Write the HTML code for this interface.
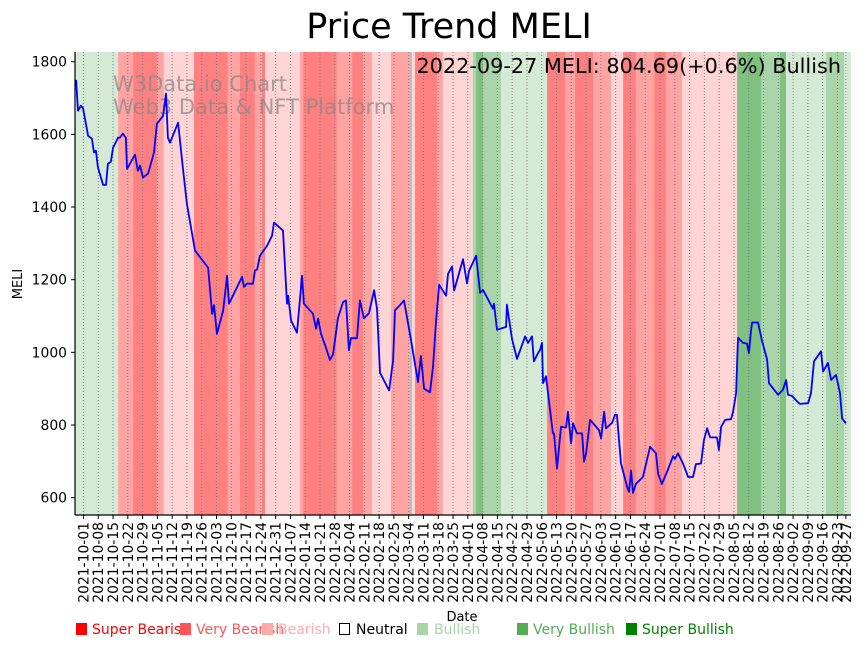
<!DOCTYPE html>
<html><head><meta charset="utf-8">
<style>
html,body{margin:0;padding:0;background:#fff;}
body{width:868px;height:646px;overflow:hidden;font-family:"DejaVu Sans","Liberation Sans",sans-serif;}
svg{display:block;}
</style></head>
<body>
<svg id="chart" width="868" height="646" viewBox="0 0 868 646" xmlns="http://www.w3.org/2000/svg" font-family="DejaVu Sans, Liberation Sans, sans-serif">
  <g id="bands"></g>
  <g id="grid"></g>
  <text x="113" y="91" font-size="21" fill="#888" fill-opacity="0.75">W3Data.io Chart</text>
  <text x="113" y="114" font-size="21" fill="#888" fill-opacity="0.75">Web3 Data &amp; NFT Platform</text>
  <path id="priceLine" fill="none" stroke="#0000ff" stroke-width="1.8" stroke-linejoin="round"/>
  <g id="axes"></g>
  <text x="449" y="38" font-size="35" text-anchor="middle" fill="#000">Price Trend MELI</text>
  <text x="841" y="73" font-size="20.8" text-anchor="end" fill="#000">2022-09-27 MELI: 804.69(+0.6%) Bullish</text>
  <text transform="translate(22,284) rotate(-90)" font-size="13" text-anchor="middle">MELI</text>
  <text x="462" y="621" font-size="13" text-anchor="middle">Date</text>
  <g id="legend" font-size="14">
    <g><rect x="76" y="623" width="11" height="12" fill="#ff0000"/><text x="92" y="634" fill="#ff0000">Super Bearish</text></g>
    <g><rect x="180" y="623" width="11" height="12" fill="#ff5555"/><text x="196" y="634" fill="#ff5555">Very Bearish</text></g>
    <g><rect x="262" y="623" width="11" height="12" fill="#ffaaaa"/><text x="278" y="634" fill="#ffaaaa">Bearish</text></g>
    <g><rect x="339.5" y="623.5" width="10" height="11" fill="none" stroke="#000"/><text x="356" y="634" fill="#000">Neutral</text></g>
    <g><rect x="417" y="623" width="11" height="12" fill="#aad4aa"/><text x="434" y="634" fill="#aad4aa">Bullish</text></g>
    <g><rect x="517" y="623" width="11" height="12" fill="#55aa55"/><text x="533" y="634" fill="#55aa55">Very Bullish</text></g>
    <g><rect x="626" y="623" width="11" height="12" fill="#008000"/><text x="642" y="634" fill="#008000">Super Bullish</text></g>
  </g>
</svg>
<script>
// Data: day offsets from 2021-09-27 and closing prices
const dayOffsets = [0,0.5,1.4,2.8,3.8,6.2,8,9,9.9,10.9,13.3,14.7,15.6,17,18,20.4,21.3,22.7,24.1,24.6,28.4,29.8,30.8,32.2,34.6,37.4,38.8,41.7,43.1,44,45,48.8,50.7,53,56.8,63,64.9,65.8,67.2,70.1,72,72.9,79.1,80,81.4,84.3,85.2,86.2,87.6,90.9,93.3,94.2,98.5,100.4,100.9,102.3,105.1,107.5,108.4,112.7,114.1,115.1,116.5,118.4,120.7,122.2,124.5,126.9,128.3,129.7,130.7,133.5,134.9,136.8,139.2,141.6,143,144.4,148.7,150.6,151.5,153.9,155.8,159.1,162.4,163.8,165.3,168.1,169.5,170.9,172.4,175.7,176.6,178.5,179.5,183.7,185.6,186.6,189.9,191.8,193.2,197.9,198.4,199.8,204.1,204.5,206.9,209.3,211.7,213.1,214.5,216.4,217.3,219.2,220.2,221.1,221.6,223,226.3,226.8,228.2,230.1,232.5,233.4,234.9,235.8,237.7,240.1,241,242,243.9,248.1,249.1,250.5,251.4,254.3,255.7,256.6,258.5,261.4,262.3,263.3,264.2,265.6,268.9,270.8,272.3,275.1,276.1,277.9,280.3,283.2,284.1,285.5,287.9,290.3,292.6,294,296.4,297.8,299.3,300.7,304,304.9,305.9,307.8,310.6,311.6,313,313.9,316.3,318.2,319.1,320.1,320.6,323.4,325.3,327.7,328.6,332.9,335.2,336.7,337.6,339.5,341.9,343.3,347.1,348.5,349.9,353.2,354.2,356.5,358,360.3,362.2,363.2,365];
const prices = [1748,1748,1665,1679,1672,1596,1588,1550,1555,1508,1461,1461,1519,1525,1563,1591,1591,1602,1590,1505,1544,1500,1514,1481,1492,1550,1629,1651,1712,1591,1577,1632,1527,1409,1280,1233,1106,1130,1051,1114,1211,1134,1208,1180,1189,1189,1225,1228,1266,1293,1321,1357,1335,1134,1156,1087,1054,1211,1134,1106,1065,1093,1051,1020,979,995,1094,1138,1143,1006,1039,1039,1143,1094,1108,1171,1120,944,895,978,1116,1130,1143,1034,918,990,900,890,960,1080,1186,1156,1216,1236,1170,1256,1190,1225,1266,1164,1172,1120,1134,1062,1070,1131,1037,982,1021,1044,1026,1044,975,998,1007,1026,915,934,777,777,680,795,793,837,749,805,777,777,699,722,814,786,763,837,791,806,828,828,694,630,616,674,613,638,657,703,740,722,666,638,671,714,707,722,694,657,657,692,694,759,791,766,766,731,795,814,816,837,888,1040,1026,1024,998,1062,1082,1082,1032,980,915,883,897,924,883,880,865,858,860,888,975,1003,947,971,924,938,888,818,804.69];
// Sentiment bands: start/end day offsets and sentiment level
const bandStarts = [0,20.4,27.5,38.8,42.1,56.3,72.4,78.1,85.2,88.5,90,106.5,108,124,131.2,136.4,140.6,149.6,158.6,159.6,161,171.4,174.2,188.4,189.9,193.2,201.7,223.5,232,236.7,245.3,253.8,259.5,265.6,274.2,279.8,287.4,313.5,324.8,333.8,336.7,355.6,364.1];
const bandEnds = [20.4,27.5,38.8,42.1,56.3,72.4,78.1,85.2,88.5,90,106.5,108,124,131.2,136.4,140.6,149.6,158.6,159.6,161,171.4,174.2,188.4,189.9,193.2,201.7,223.5,232,236.7,245.3,253.8,259.5,265.6,274.2,279.8,287.4,313.5,324.8,333.8,336.7,355.6,364.1,367.5];
const bandLevels = [1,-2,-3,-2,-1,-3,-2,-3,-2,-3,-1,-2,-3,-2,-3,-2,-1,-2,0,-1,-3,-2,-1,2,3,2,1,-3,-2,-3,-2,-1,-3,-2,-3,-2,-1,3,2,3,1,2,1];
const yTicks = [600,800,1000,1200,1400,1600,1800];
const tickDates = ["2021-10-01","2021-10-08","2021-10-15","2021-10-22","2021-10-29","2021-11-05","2021-11-12","2021-11-19","2021-11-26","2021-12-03","2021-12-10","2021-12-17","2021-12-24","2021-12-31","2022-01-07","2022-01-14","2022-01-21","2022-01-28","2022-02-04","2022-02-11","2022-02-18","2022-02-25","2022-03-04","2022-03-11","2022-03-18","2022-03-25","2022-04-01","2022-04-08","2022-04-15","2022-04-22","2022-04-29","2022-05-06","2022-05-13","2022-05-20","2022-05-27","2022-06-03","2022-06-10","2022-06-17","2022-06-24","2022-07-01","2022-07-08","2022-07-15","2022-07-22","2022-07-29","2022-08-05","2022-08-12","2022-08-19","2022-08-26","2022-09-02","2022-09-09","2022-09-16","2022-09-23","2022-09-27"];

const NS = "http://www.w3.org/2000/svg";
const PL = 75, PR = 851, PT = 52, PB = 515;
const base = Date.UTC(2021,8,27);
function xScale(d){ return 75 + d * 2.112; }
function yScale(p){ return 61.7 + (1800 - p) * 0.3633; }
function dayOf(s){ const [y,m,d]=s.split('-').map(Number); return (Date.UTC(y,m-1,d)-base)/86400000; }
const levelColor = {"-3":"#ff8080","-2":"#ffa3a3","-1":"#ffd4d4","0":"#ffffff","1":"#d5ead5","2":"#aad4aa","3":"#80c080"};

const bandsG = document.getElementById('bands');
for (let i=0;i<bandStarts.length;i++){
  const r = document.createElementNS(NS,'rect');
  const x0 = Math.max(PL, xScale(bandStarts[i])), x1 = Math.min(PR, xScale(bandEnds[i]));
  r.setAttribute('x', x0); r.setAttribute('y', PT);
  r.setAttribute('width', Math.max(0, x1-x0)); r.setAttribute('height', PB-PT);
  r.setAttribute('fill', levelColor[String(bandLevels[i])]);
  
  
  bandsG.appendChild(r);
}
const neutralLine = document.createElementNS(NS,'rect');
neutralLine.setAttribute('x', xScale(158.6)); neutralLine.setAttribute('y', PT);
neutralLine.setAttribute('width', 2); neutralLine.setAttribute('height', PB-PT);
neutralLine.setAttribute('fill', '#bbbbbb');


bandsG.appendChild(neutralLine);

const gridG = document.getElementById('grid');
const axesG = document.getElementById('axes');
tickDates.forEach(s=>{
  const x = xScale(dayOf(s));
  const l = document.createElementNS(NS,'line');
  l.setAttribute('x1',x); l.setAttribute('x2',x); l.setAttribute('y1',PT); l.setAttribute('y2',PB);
  l.setAttribute('stroke','#808080'); l.setAttribute('stroke-width','1'); l.setAttribute('stroke-dasharray','1,2');
  
  
  gridG.appendChild(l);
  const t = document.createElementNS(NS,'line');
  t.setAttribute('x1',x); t.setAttribute('x2',x); t.setAttribute('y1',PB); t.setAttribute('y2',PB+4);
  t.setAttribute('stroke','#000');
  
  
  axesG.appendChild(t);
  const tx = document.createElementNS(NS,'text');
  tx.setAttribute('transform','translate('+(x+5)+','+(PB+7)+') rotate(-90)');
  tx.setAttribute('text-anchor','end'); tx.setAttribute('font-size','13.9');
  tx.textContent = s;
  
  
  axesG.appendChild(tx);
});
yTicks.forEach(v=>{
  const y = yScale(v);
  const t = document.createElementNS(NS,'line');
  t.setAttribute('x1',PL-4); t.setAttribute('x2',PL); t.setAttribute('y1',y); t.setAttribute('y2',y);
  t.setAttribute('stroke','#000');
  
  
  axesG.appendChild(t);
  const tx = document.createElementNS(NS,'text');
  tx.setAttribute('x',PL-8); tx.setAttribute('y',y+5);
  tx.setAttribute('text-anchor','end'); tx.setAttribute('font-size','13.9');
  tx.textContent = v;
  
  
  axesG.appendChild(tx);
});
const spL = document.createElementNS(NS,'line');
spL.setAttribute('x1',PL); spL.setAttribute('x2',PL); spL.setAttribute('y1',PT); spL.setAttribute('y2',PB);
spL.setAttribute('stroke','#000'); spL.setAttribute('stroke-width','1.2');


axesG.appendChild(spL);
const spB = document.createElementNS(NS,'line');
spB.setAttribute('x1',PL); spB.setAttribute('x2',PR); spB.setAttribute('y1',PB); spB.setAttribute('y2',PB);
spB.setAttribute('stroke','#000'); spB.setAttribute('stroke-width','1.2');


axesG.appendChild(spB);

let d = '';
for (let i=0;i<prices.length;i++){
  d += (i?'L':'M') + xScale(dayOffsets[i]).toFixed(1) + ',' + yScale(prices[i]).toFixed(1);
}
document.getElementById('priceLine').setAttribute('d', d);
</script>
</body></html>
